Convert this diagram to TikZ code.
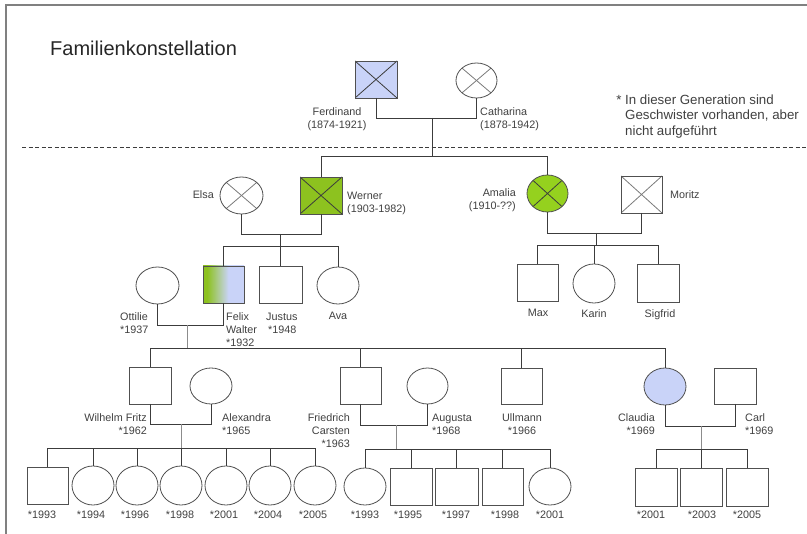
\documentclass[tikz,border=0pt]{standalone}
\usepackage{fontspec}
\setmainfont{Liberation Sans}
\usetikzlibrary{shapes.geometric,calc}
\definecolor{lineC}{HTML}{3C3C3C}
\definecolor{shapeC}{HTML}{505050}
\definecolor{crossL}{HTML}{7A7A7A}
\definecolor{txtC}{HTML}{404040}
\definecolor{midC}{HTML}{8C8C8C}
\definecolor{frameC}{HTML}{808080}
\definecolor{pblue}{HTML}{C9D3F8}
\definecolor{pgreen}{HTML}{8DC21F}
\definecolor{agreen}{HTML}{95D11E}
\pgfdeclarehorizontalshading{felixshade}{100bp}{color(0bp)=(pgreen); color(30bp)=(pgreen); color(56bp)=(pblue); color(100bp)=(pblue)}
\tikzset{
  male/.style={rectangle, draw=shapeC, line width=0.8pt, minimum width=42pt, minimum height=37pt, inner sep=0pt, outer sep=0pt},
  female/.style={ellipse, draw=shapeC, line width=0.8pt, minimum width=42pt, minimum height=37pt, inner sep=0pt, outer sep=0pt},
  deadm/.style={path picture={\draw[#1, line width=0.8pt] (path picture bounding box.north west) -- (path picture bounding box.south east) (path picture bounding box.north east) -- (path picture bounding box.south west);}},
  deadf/.style={path picture={\draw[#1, line width=0.8pt] ($(path picture bounding box.center)!0.7071!(path picture bounding box.north west)$) -- ($(path picture bounding box.center)!0.7071!(path picture bounding box.south east)$) ($(path picture bounding box.center)!0.7071!(path picture bounding box.north east)$) -- ($(path picture bounding box.center)!0.7071!(path picture bounding box.south west)$);}},
  conn/.style={draw=lineC, line width=0.8pt},
  midline/.style={draw=midC, line width=0.8pt},
  lbl/.style={font=\fontsize{10.8}{13}\selectfont, text=txtC, inner sep=0pt},
}
\begin{document}
\begin{tikzpicture}[x=1pt, y=-1pt]
\useasboundingbox (0,0) rectangle (807,534);
% frame and separator
\draw[frameC, line width=1.6pt] (6,540) -- (6,5) -- (812,5);
\draw[lineC, line width=0.7pt, dash pattern=on 4pt off 2.5pt] (22,147) -- (807,147);
% title and note
\node[anchor=base west, font=\fontsize{20}{24}\selectfont, text=black!85, inner sep=0pt] (title) at (50,55.5) {Familienkonstellation};
\node[anchor=west, align=left, font=\fontsize{13.3}{15.5}\selectfont, text=txtC, inner sep=0pt] (note) at (625,116.5) {\llap{* }In dieser Generation sind\\Geschwister vorhanden, aber\\nicht aufgeführt};

% generation 1
\node[male, fill=pblue, deadm=lineC] (ferd) at (376,79.5) {};
\node[female, deadf=crossL, minimum width=41pt, minimum height=35pt] (cath) at (476.5,80.5) {};
% generation 2
\node[female, deadf=crossL, minimum width=43pt] (elsa) at (241.5,195.5) {};
\node[male, fill=pgreen, deadm=lineC] (werner) at (321,195.5) {};
\node[female, fill=agreen, deadf=lineC, minimum width=41pt] (amalia) at (547.5,193.5) {};
\node[male, deadm=crossL, minimum width=41pt] (moritz) at (641.5,194.5) {};
% generation 3
\node[female, minimum width=43pt] (ottilie) at (157.5,285.5) {};
\node[male, shading=felixshade, minimum width=41pt] (felix) at (223.5,284.5) {};
\node[male, minimum width=43pt] (justus) at (280.5,284.5) {};
\node[female] (ava) at (338,285.5) {};
\node[male, minimum width=41pt] (max) at (537.5,282.5) {};
\node[female, minimum height=39pt] (karin) at (594,283.5) {};
\node[male, minimum height=38pt] (sigfrid) at (658,283) {};
% generation 4
\node[male] (wilhelm) at (150,385.5) {};
\node[female, minimum height=36pt] (alexandra) at (211,386) {};
\node[male, minimum width=41pt] (friedrich) at (360.5,385.5) {};
\node[female, minimum width=41pt, minimum height=36pt] (augusta) at (427.5,386) {};
\node[male, minimum width=41pt, minimum height=36pt] (ullmann) at (521.5,386) {};
\node[female, fill=pblue] (claudia) at (665,386.5) {};
\node[male, minimum height=36pt] (carl) at (735,386) {};
% generation 5
\node[male, minimum width=41pt] (wa1) at (47.5,485.5) {};
\node[female, minimum height=39pt] (wa2) at (93,485.5) {};
\node[female, minimum height=39pt] (wa3) at (137,485.5) {};
\node[female, minimum height=39pt] (wa4) at (181,485.5) {};
\node[female, minimum height=39pt] (wa5) at (226,485.5) {};
\node[female, minimum height=39pt] (wa6) at (270,485.5) {};
\node[female, minimum height=39pt] (wa7) at (315,485.5) {};
\node[female] (fa1) at (365,486.5) {};
\node[male] (fa2) at (411,486.5) {};
\node[male, minimum width=43pt] (fa3) at (456.5,486.5) {};
\node[male, minimum width=41pt] (fa4) at (502.5,486.5) {};
\node[female] (fa5) at (550,486.5) {};
\node[male, minimum height=38pt] (cc1) at (656,487) {};
\node[male, minimum height=38pt] (cc2) at (701,487) {};
\node[male, minimum height=38pt] (cc3) at (747.5,487) {};

% labels
\node[lbl, align=center] (lferd) at (337,119) {Ferdinand\\(1874-1921)};
\node[lbl, anchor=west, align=left] (lcath) at (480,119.5) {Catharina\\(1878-1942)};
\node[lbl, anchor=east] (lelsa) at (214,195) {Elsa};
\node[lbl, anchor=west, align=left] (lwerner) at (347,203) {Werner\\(1903-1982)};
\node[lbl, anchor=east, align=right] (lamalia) at (516,200.5) {Amalia\\(1910-??)};
\node[lbl, anchor=west] (lmoritz) at (670,195) {Moritz};
\node[lbl] (lmax) at (538,312.5) {Max};
\node[lbl, anchor=base] (lkarin) at (594,317.5) {Karin};
\node[lbl, anchor=base] (lsigfrid) at (660,317.5) {Sigfrid};
\node[lbl, anchor=west, align=left] (lottilie) at (120,323) {Ottilie\\*1937};
\node[lbl, anchor=west, align=left] (lfelix) at (226,329.5) {Felix\\Walter\\*1932};
\node[lbl, anchor=west, align=left] (ljustus) at (266,323) {Justus\\\hspace*{2pt}*1948};
\node[lbl] (lava) at (338,316) {Ava};
\node[lbl, anchor=east, align=right] (lwilhelm) at (147,424) {Wilhelm Fritz\\*1962};
\node[lbl, anchor=west, align=left] (lalexandra) at (222,424) {Alexandra\\*1965};
\node[lbl, anchor=east, align=right] (lfriedrich) at (350,431) {Friedrich\\Carsten\\*1963};
\node[lbl, anchor=west, align=left] (laugusta) at (432,424) {Augusta\\*1968};
\node[lbl, align=center] (lullmann) at (522,424) {Ullmann\\*1966};
\node[lbl, anchor=east, align=right] (lclaudia) at (655,424) {Claudia\\*1969};
\node[lbl, anchor=west, align=left] (lcarl) at (745,424) {Carl\\*1969};
\node[lbl] (lwa1) at (42,515) {*1993};
\node[lbl] (lwa2) at (91,515) {*1994};
\node[lbl] (lwa3) at (135,515) {*1996};
\node[lbl] (lwa4) at (180,515) {*1998};
\node[lbl] (lwa5) at (224,515) {*2001};
\node[lbl] (lwa6) at (268,515) {*2004};
\node[lbl] (lwa7) at (313,515) {*2005};
\node[lbl] (lfa1) at (365,514.5) {*1993};
\node[lbl] (lfa2) at (408,514.5) {*1995};
\node[lbl] (lfa3) at (456,514.5) {*1997};
\node[lbl] (lfa4) at (505,514.5) {*1998};
\node[lbl] (lfa5) at (550,514.5) {*2001};
\node[lbl] (lcc1) at (651,514.5) {*2001};
\node[lbl] (lcc2) at (702,514.5) {*2003};
\node[lbl] (lcc3) at (747,514.5) {*2005};

% connectors: Ferdinand + Catharina
\coordinate (m1) at (432,118);
\coordinate (b1) at (432,156);
\draw[conn] (ferd.south) |- (m1);
\draw[conn] (cath.south) |- (m1);
\draw[conn] (m1) -- (b1);
\draw[conn] (werner.north) -- (werner.north |- b1) -- (amalia.north |- b1) -- (amalia.north);
% Elsa + Werner
\coordinate (m2) at (280.5,234);
\coordinate (b2) at (280.5,246);
\draw[conn] (elsa.south) |- (m2);
\draw[conn] (werner.south) |- (m2);
\draw[conn] (m2) -- (b2);
\draw[conn] (felix.north) -- (felix.north |- b2) -- (ava.north |- b2) -- (ava.north);
\draw[conn] (justus.north) -- (justus.north |- b2);
% Amalia + Moritz
\coordinate (m3) at (596,233);
\coordinate (b3) at (596,245);
\draw[conn] (amalia.south) |- (m3);
\draw[conn] (moritz.south) |- (m3);
\draw[conn] (m3) -- (b3);
\draw[conn] (max.north) -- (max.north |- b3) -- (sigfrid.north |- b3) -- (sigfrid.north);
\draw[conn] (karin.north) -- (karin.north |- b3);
% Ottilie + Felix
\coordinate (m4) at (187,325);
\coordinate (b4) at (187,348);
\draw[conn] (ottilie.south) |- (m4);
\draw[conn] (felix.south) |- (m4);
\draw[midline] (m4) -- (b4);
\draw[conn] (wilhelm.north) -- (wilhelm.north |- b4) -- (claudia.north |- b4) -- (claudia.north);
\draw[conn] (friedrich.north) -- (friedrich.north |- b4);
\draw[conn] (ullmann.north) -- (ullmann.north |- b4);
% Wilhelm + Alexandra
\coordinate (m5) at (181,424);
\coordinate (b5) at (181,448);
\draw[conn] (wilhelm.south) |- (m5);
\draw[conn] (alexandra.south) |- (m5);
\draw[midline] (m5) -- (b5);
\draw[conn] (wa1.north) -- (wa1.north |- b5) -- (wa7.north |- b5) -- (wa7.north);
\foreach \k in {wa2,wa3,wa4,wa5,wa6} \draw[conn] (\k.north) -- (\k.north |- b5);
% Friedrich + Augusta
\coordinate (m6) at (396,425);
\coordinate (b6) at (396,449);
\draw[conn] (friedrich.south) |- (m6);
\draw[conn] (augusta.south) |- (m6);
\draw[midline] (m6) -- (b6);
\draw[conn] (fa1.north) -- (fa1.north |- b6) -- (fa5.north |- b6) -- (fa5.north);
\foreach \k in {fa2,fa3,fa4} \draw[conn] (\k.north) -- (\k.north |- b6);
% Claudia + Carl
\coordinate (m7) at (701,426);
\coordinate (b7) at (701,449);
\draw[conn] (claudia.south) |- (m7);
\draw[conn] (carl.south) |- (m7);
\draw[midline] (m7) -- (b7);
\draw[conn] (cc1.north) -- (cc1.north |- b7) -- (cc3.north |- b7) -- (cc3.north);
\draw[conn] (cc2.north) -- (cc2.north |- b7);
\end{tikzpicture}
\end{document}
